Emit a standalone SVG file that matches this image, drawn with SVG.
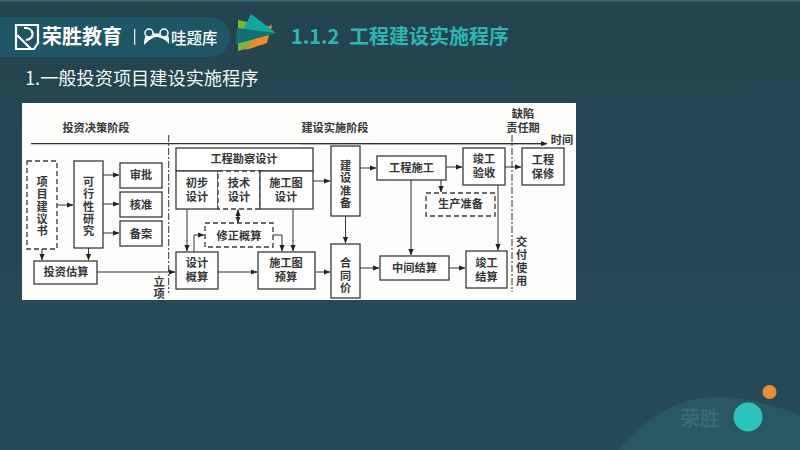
<svg xmlns="http://www.w3.org/2000/svg" width="800" height="450" viewBox="0 0 800 450">
<defs>
<marker id="a" markerUnits="userSpaceOnUse" markerWidth="7" markerHeight="6" refX="6" refY="3" orient="auto"><path d="M0 0.4L6.5 3L0 5.6z" fill="#222"/></marker>
<linearGradient id="bg" x1="0" y1="0" x2="0" y2="1"><stop offset="0" stop-color="#24434f"/><stop offset="1" stop-color="#254b57"/></linearGradient>
</defs>
<style>
text{font-family:"Noto Sans CJK SC","Liberation Sans",sans-serif}
.n{fill:#fff;stroke:#3a3a3a;stroke-width:1.3}
.d{fill:#fff;stroke:#3a3a3a;stroke-width:1.3;stroke-dasharray:5 3}
.t{font-size:11.2px;font-weight:700;fill:#363636;text-anchor:middle}
.v{font-size:11.2px;font-weight:700;fill:#363636;text-anchor:middle;writing-mode:vertical-rl;letter-spacing:1.2px}
.c{fill:none;stroke:#333;stroke-width:1;marker-end:url(#a)}
.l{fill:none;stroke:#333;stroke-width:1.2}
.dd{fill:none;stroke:#333;stroke-width:1;stroke-dasharray:7 2 2 2}
</style>
<rect width="800" height="450" fill="url(#bg)"/>
<rect width="800" height="1.5" fill="#3d6b75"/>
<path d="M618 450C640 425 665 405 695 399C715 395 752 396 800 415V450z" fill="#295860"/>
<text x="680" y="426" font-size="20" font-weight="700" fill="#3a6a70">荣胜</text>
<circle cx="748" cy="417" r="14.500" fill="#2cc4bd"/>
<circle cx="769.500" cy="392" r="7" fill="#e98f3c"/>

<path d="M0 17H208C222 17 230 27 230 37C230 47 222 57 208 57H0z" fill="#1f5666"/>
<g id="logo">
<path d="M16 25H38V43L34 49H16z" fill="none" stroke="#fff" stroke-width="2.200"/>
<path d="M17 35L31 49M24 28C34 27 36 39 26 40" fill="none" stroke="#fff" stroke-width="2.200"/>
<text x="42" y="44" font-size="20" font-weight="700" fill="#fff">荣胜教育</text>
<rect x="134" y="29" width="1.300" height="16" fill="#dfe9ea"/>
<path d="M144 45C144 35 148 32 151 32C154 34 160 34 163 32C166 32 170 35 169 44C165 39 160 37 156.500 37C153 37 149 40 144 45z" fill="#fff"/>
<circle cx="149" cy="33" r="4" fill="#1f5666" stroke="#fff" stroke-width="1.500"/>
<circle cx="164" cy="33" r="4" fill="#1f5666" stroke="#fff" stroke-width="1.500"/>
<text x="171" y="44" font-size="15.500" font-weight="500" fill="#fff">哇题库</text>
</g>
<g id="emblem">
<path d="M238 20L272 27L264 44L238 51z" fill="#7db43a"/>
<path d="M252 41L272 24L267 43L246 50z" fill="#ee8a2e"/>
<path d="M251 14L276 33L236 44z" fill="#14a79d"/>
<path d="M237 28L276 33L236 44z" fill="#136f73"/>
</g>
<text x="291" y="44" font-size="20" font-weight="700" fill="#2bb8b2">1.1.2<tspan x="349">工程建设实施程序</tspan></text>
<text x="25" y="85" font-size="18.200" fill="#f0f4f4">1.一般投资项目建设实施程序</text>

<rect x="22" y="103" width="554" height="197" fill="#fdfdfc"/>

<g id="axes">
<path class="l" d="M31 143.700H541"/>
<path class="c" d="M300 143.700H547"/>
<path class="dd" d="M168.700 135V293"/>
<path class="dd" d="M512 135V292"/>
</g>
<g class="t">
<text x="96" y="132">投资决策阶段</text>
<text x="335" y="132">建设实施阶段</text>
<text x="523" y="118">缺陷<tspan x="523" dy="14">责任期</tspan></text>
<text x="562" y="144">时间</text>
</g>
<text class="v" x="159" y="288" style="letter-spacing:0.800px">立项</text>
<text class="v" x="521.500" y="262" style="letter-spacing:1.500px">交付使用</text>

<g id="connectors">
<path class="c" d="M57 205H73"/>
<path class="c" d="M42 249V260"/>
<path class="c" d="M88.500 248V260"/>
<path class="c" d="M103 175H119"/>
<path class="c" d="M103 204H119"/>
<path class="c" d="M103 233H119"/>
<path class="c" d="M97 272H175"/>
<path class="c" d="M187 209V251"/>
<path class="c" d="M194 252V235H204"/>
<path class="c" d="M238 209.500V222.500"/>
<path class="c" d="M238 222.500V210"/>
<path class="c" d="M273 235H282V251"/>
<path class="c" d="M293 209V251"/>
<path class="c" d="M218 272H257"/>
<path class="c" d="M315 272H330"/>
<path class="c" d="M313 181H330"/>
<path class="c" d="M345.500 216V243"/>
<path class="c" d="M360 268H379"/>
<path class="c" d="M360 168H376"/>
<path class="c" d="M446 167H462"/>
<path class="c" d="M441 180V192"/>
<path class="c" d="M411 180V255"/>
<path class="c" d="M449 268H465"/>
<path class="c" d="M498 185V250"/>
<path class="c" d="M505 167H521"/>
</g>

<g id="n1"><rect class="d" x="27" y="161" width="30" height="88"/><text class="v" x="42" y="207">项目建议书</text></g>
<g id="n2"><rect class="n" x="74" y="161" width="29" height="87"/><text class="v" x="88.500" y="207">可行性研究</text></g>
<g id="n3"><rect class="n" x="120" y="163" width="42" height="25"/><text class="t" x="141" y="179">审批</text></g>
<g id="n4"><rect class="n" x="120" y="192" width="42" height="25"/><text class="t" x="141" y="209">核准</text></g>
<g id="n5"><rect class="n" x="120" y="221" width="42" height="25"/><text class="t" x="141" y="238">备案</text></g>
<g id="n6"><rect class="n" x="34" y="261" width="63" height="23"/><text class="t" x="66" y="276">投资估算</text></g>
<g id="n7"><rect class="n" x="176" y="148" width="137" height="23"/><text class="t" x="244" y="163">工程勘察设计</text></g>
<g id="n8"><rect class="n" x="176" y="171" width="42" height="38"/><text class="t" x="197" y="187">初步<tspan x="197" dy="14">设计</tspan></text></g>
<g id="n9"><rect class="d" x="218" y="171" width="42" height="38"/><text class="t" x="239" y="187">技术<tspan x="239" dy="14">设计</tspan></text></g>
<g id="n10"><rect class="n" x="260" y="171" width="53" height="38"/><text class="t" x="286" y="187">施工图<tspan x="286" dy="14">设计</tspan></text></g>
<g id="n11"><rect class="d" x="205" y="223" width="68" height="24"/><text class="t" x="239" y="240">修正概算</text></g>
<g id="n12"><rect class="n" x="176" y="252" width="42" height="37"/><text class="t" x="197" y="267">设计<tspan x="197" dy="14">概算</tspan></text></g>
<g id="n13"><rect class="n" x="258" y="252" width="57" height="37"/><text class="t" x="286" y="267">施工图<tspan x="286" dy="14">预算</tspan></text></g>
<g id="n14"><rect class="n" x="331" y="146" width="29" height="70"/><text class="v" x="345.500" y="185">建设准备</text></g>
<g id="n15"><rect class="n" x="331" y="244" width="29" height="54"/><text class="v" x="345.500" y="276">合同价</text></g>
<g id="n16"><rect class="n" x="377" y="156" width="69" height="24"/><text class="t" x="411.500" y="172">工程施工</text></g>
<g id="n17"><rect class="n" x="463" y="148" width="42" height="37"/><text class="t" x="484" y="163">竣工<tspan x="484" dy="14">验收</tspan></text></g>
<g id="n18"><rect class="n" x="522" y="148" width="42" height="37"/><text class="t" x="543" y="164">工程<tspan x="543" dy="13.500">保修</tspan></text></g>
<g id="n19"><rect class="d" x="426" y="193" width="69" height="23"/><text class="t" x="460.500" y="208">生产准备</text></g>
<g id="n20"><rect class="n" x="380" y="256" width="69" height="24"/><text class="t" x="414.500" y="272">中间结算</text></g>
<g id="n21"><rect class="n" x="466" y="251" width="41" height="37"/><text class="t" x="486.500" y="267">竣工<tspan x="486.500" dy="13.500">结算</tspan></text></g>
</svg>
